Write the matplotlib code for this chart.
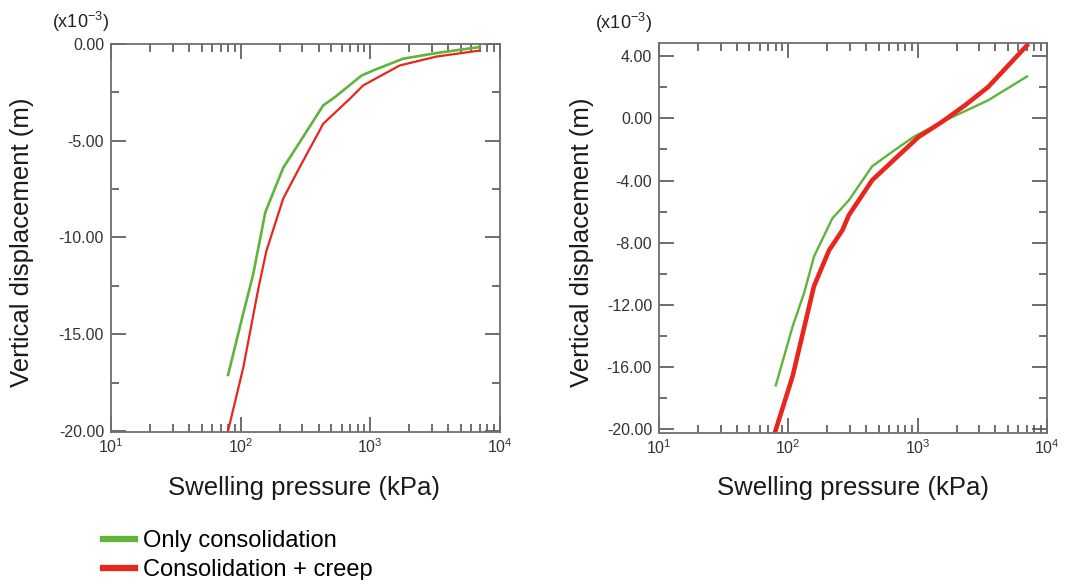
import matplotlib
matplotlib.use('Agg')
import matplotlib.pyplot as plt
from matplotlib.ticker import MultipleLocator, FormatStrFormatter, LogLocator, LogFormatterSciNotation
from matplotlib.lines import Line2D

plt.rcParams['font.family'] = ['Liberation Sans', 'DejaVu Sans']
plt.rcParams['mathtext.fontset'] = 'custom'
plt.rcParams['mathtext.rm'] = 'Liberation Sans'
plt.rcParams['mathtext.it'] = 'Liberation Sans:italic'
plt.rcParams['mathtext.bf'] = 'Liberation Sans:bold'
plt.rcParams['mathtext.default'] = 'regular'

# swelling pressure (kPa) vs vertical displacement (x1e-3 m)
left_green_x = [80, 105, 125, 155, 213, 270, 434, 533, 857, 1052, 1794, 3245, 4910, 7000]
left_green_y = [-17.1, -13.9, -11.9, -8.7, -6.4, -5.33, -3.17, -2.75, -1.63, -1.37, -0.76, -0.47, -0.30, -0.16]
left_red_x = [80, 105, 137, 158, 213, 286, 434, 696, 882, 1690, 3245, 7000]
left_red_y = [-20.0, -16.7, -12.64, -10.7, -7.99, -6.36, -4.12, -2.83, -2.14, -1.11, -0.65, -0.34]

right_green_x = [80, 108, 133, 158, 219, 294, 445, 634, 931, 1538, 3516, 7000]
right_green_y = [-17.2, -13.4, -11.2, -8.9, -6.44, -5.27, -3.08, -2.16, -1.19, -0.23, 1.17, 2.7]
right_red_x = [79, 108, 158, 207, 262, 294, 445, 673, 1018, 1538, 2328, 3516, 7000]
right_red_y = [-20.2, -16.6, -10.8, -8.48, -7.2, -6.23, -3.98, -2.58, -1.19, -0.23, 0.85, 2.03, 4.7]

labels = ['Only consolidation', 'Consolidation + creep']
GREEN = '#5fb43a'
RED = '#e8261e'
SPINE = '#6e6e6e'


def style_axes(ax, major, minor, ylim):
    ax.set_xscale('log')
    ax.set_xlim(10, 1e4)
    ax.set_ylim(*ylim)
    ax.xaxis.set_major_locator(LogLocator(base=10))
    ax.xaxis.set_minor_locator(LogLocator(base=10, subs=range(2, 10)))
    ax.xaxis.set_major_formatter(LogFormatterSciNotation())
    ax.yaxis.set_major_locator(MultipleLocator(major))
    ax.yaxis.set_minor_locator(MultipleLocator(minor))
    ax.yaxis.set_major_formatter(FormatStrFormatter('%.2f'))
    ax.tick_params(which='both', direction='in', top=True, right=True,
                   color='#555555', width=1.2, labelcolor='#333333')
    ax.tick_params(axis='y', labelsize=11.5, pad=5)
    ax.tick_params(axis='x', labelsize=11.5, pad=4)
    ax.tick_params(which='major', length=10.8)
    ax.tick_params(which='minor', length=5.8)
    for sp in ax.spines.values():
        sp.set_color(SPINE)
        sp.set_linewidth(1.3)


fig = plt.figure(figsize=(10.68, 5.8), dpi=100)
ax1 = fig.add_axes([0.1039, 0.2552, 0.3642, 0.669])
ax2 = fig.add_axes([0.617, 0.2534, 0.3633, 0.672])

ax1.plot(left_green_x, left_green_y, color=GREEN, lw=1.9)
ax1.plot(left_red_x, left_red_y, color=RED, lw=1.6)
style_axes(ax1, 5, 2.5, (-20.05, 0))

ax2.plot(right_green_x, right_green_y, color=GREEN, lw=1.7)
ax2.plot(right_red_x, right_red_y, color=RED, lw=3.3)
style_axes(ax2, 4, 2, (-20.26, 4.84))

# axis titles and multipliers
for cx, ycx in [(304, 22), (853, 582.5)]:
    fig.text(cx / 1068, 1 - 488 / 580, 'Swelling pressure (kPa)', ha='center', va='center',
             fontsize=18.5, color='#1a1a1a')
    fig.text(ycx / 1068, 1 - 242 / 580, 'Vertical displacement (m)', ha='center', va='center',
             rotation=90, fontsize=18.5, color='#1a1a1a')
fig.text(80 / 1068, 1 - 22 / 580, r'(x10$^{-3}$)', ha='center', va='center', fontsize=13, color='#222222')
fig.text(623 / 1068, 1 - 23 / 580, r'(x10$^{-3}$)', ha='center', va='center', fontsize=13, color='#222222')

handles = [Line2D([], [], color=GREEN, lw=4.5), Line2D([], [], color=RED, lw=4.5)]
fig.legend(handles, labels, loc='upper left', bbox_to_anchor=(103 / 1068, 1 - 530 / 580),
           frameon=False, fontsize=17, handlelength=1.36, handletextpad=0.34,
           labelspacing=0.3, borderpad=0, borderaxespad=0)

fig.savefig('out.png', dpi=100)
